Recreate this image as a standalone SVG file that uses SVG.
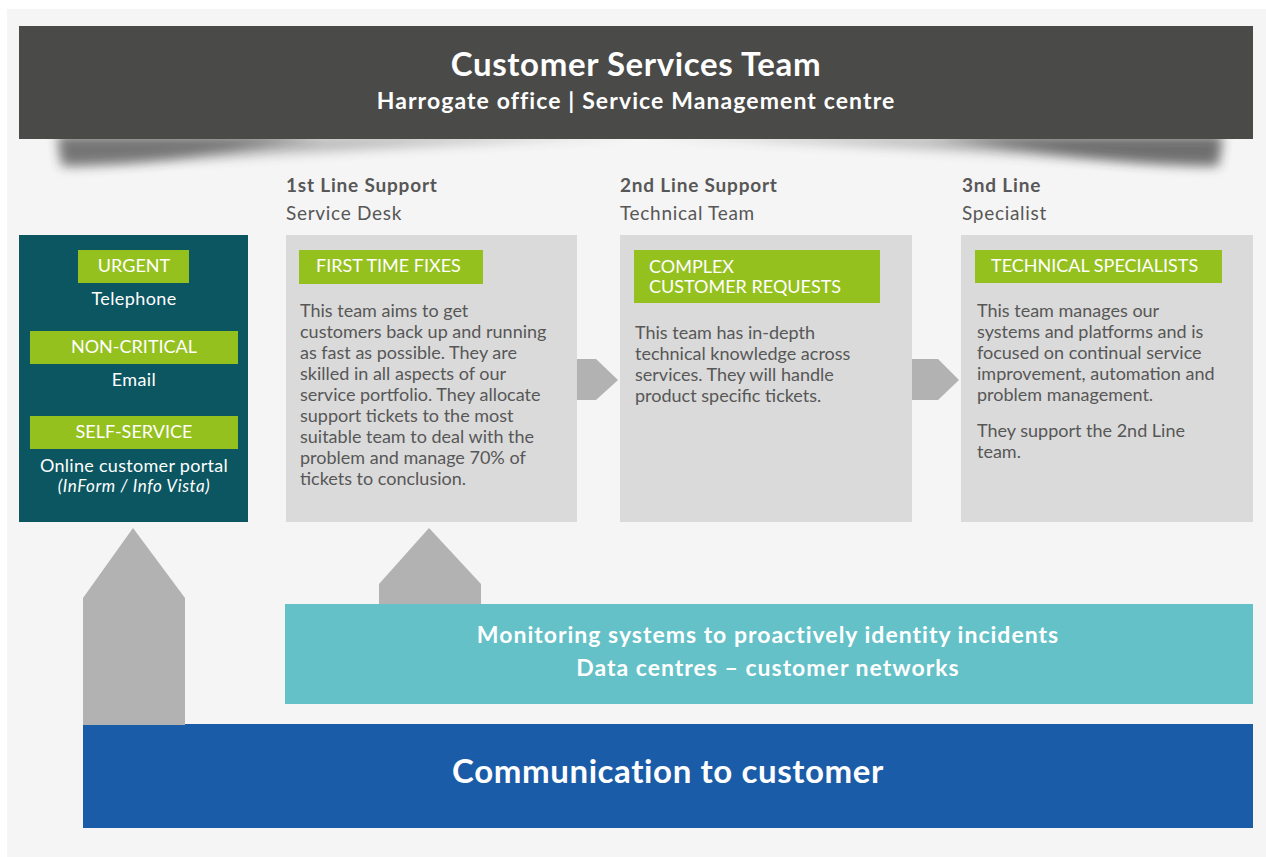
<svg xmlns="http://www.w3.org/2000/svg" width="1266" height="857" viewBox="0 0 1266 857">
<style>
.t{font-family:Lato,"Open Sans","Liberation Sans",sans-serif}
.w{fill:#fff}
.hd{font-size:19px;font-weight:700;fill:#575757;letter-spacing:0.8px}
.sh{font-size:19px;fill:#575757;letter-spacing:0.7px}
.lab{font-size:18px;fill:#fff}
.body{font-size:18px;fill:#575757}
.green{fill:#95c11f}
.gbox{fill:#dadada}
.arr{fill:#b2b2b2}
.shd{fill:#333;filter:url(#blur)}
</style>
<defs>
<filter id="blur" x="-20%" y="-100%" width="140%" height="300%"><feGaussianBlur stdDeviation="6"/></filter>
</defs>
<rect x="0" y="0" width="1266" height="857" fill="#fff"/>
<rect x="7" y="9" width="1259" height="848" fill="#f5f5f5"/>

<g id="header">
<path class="shd" opacity="0.3" d="M58,136 L640,136 C450,140 250,160 62,164 Z"/>
<path class="shd" opacity="0.5" d="M58,136 L320,136 C240,148 150,166 62,166 Z"/>
<path class="shd" opacity="0.3" d="M1222,136 L640,136 C850,140 1040,160 1218,164 Z"/>
<path class="shd" opacity="0.55" d="M1222,136 L930,136 C1020,148 1120,166 1218,166 Z"/>
<rect x="19" y="26" width="1234" height="113" fill="#4a4a48"/>
<text class="t w" x="636" y="76" text-anchor="middle" font-size="33" font-weight="700" letter-spacing="0.6">Customer Services Team</text>
<text class="t w" x="636" y="109" text-anchor="middle" font-size="23" font-weight="700" letter-spacing="1.1">Harrogate office | Service Management centre</text>
</g>

<g id="headings">
<text class="t hd" x="286" y="192">1st Line Support</text>
<text class="t sh" x="286" y="220">Service Desk</text>
<text class="t hd" x="620" y="192">2nd Line Support</text>
<text class="t sh" x="620" y="220">Technical Team</text>
<text class="t hd" x="962" y="192">3nd Line</text>
<text class="t sh" x="962" y="220">Specialist</text>
</g>

<g id="channels">
<rect x="19" y="235" width="229" height="287" fill="#0b5661"/>
<rect class="green" x="78" y="250" width="111" height="33"/>
<text class="t lab" x="134" y="272" text-anchor="middle">URGENT</text>
<text class="t w" x="134" y="305" text-anchor="middle" font-size="18" letter-spacing="0.4">Telephone</text>
<rect class="green" x="30" y="331" width="208" height="33"/>
<text class="t lab" x="134" y="353" text-anchor="middle">NON-CRITICAL</text>
<text class="t w" x="134" y="386" text-anchor="middle" font-size="18" letter-spacing="0.4">Email</text>
<rect class="green" x="30" y="416" width="208" height="33"/>
<text class="t lab" x="134" y="438" text-anchor="middle">SELF-SERVICE</text>
<text class="t w" x="134" y="472" text-anchor="middle" font-size="18" letter-spacing="0.3">Online customer portal</text>
<text class="t w" x="134" y="492" text-anchor="middle" font-size="17" font-style="italic" letter-spacing="0.6">(InForm / Info Vista)</text>
</g>

<g id="first-line">
<rect class="gbox" x="286" y="235" width="291" height="287"/>
<rect class="green" x="299" y="250" width="184" height="34"/>
<text class="t lab" x="316" y="272">FIRST TIME FIXES</text>
<text class="t body" x="300" y="317">This team aims to get</text>
<text class="t body" x="300" y="338">customers back up and running</text>
<text class="t body" x="300" y="359">as fast as possible. They are</text>
<text class="t body" x="300" y="380">skilled in all aspects of our</text>
<text class="t body" x="300" y="401">service portfolio. They allocate</text>
<text class="t body" x="300" y="422">support tickets to the most</text>
<text class="t body" x="300" y="443">suitable team to deal with the</text>
<text class="t body" x="300" y="464">problem and manage 70% of</text>
<text class="t body" x="300" y="485">tickets to conclusion.</text>
</g>

<g id="second-line">
<rect class="gbox" x="620" y="235" width="292" height="287"/>
<rect class="green" x="634" y="250" width="246" height="53"/>
<text class="t lab" x="649" y="273">COMPLEX</text>
<text class="t lab" x="649" y="293">CUSTOMER REQUESTS</text>
<text class="t body" x="635" y="339">This team has in-depth</text>
<text class="t body" x="635" y="360">technical knowledge across</text>
<text class="t body" x="635" y="381">services. They will handle</text>
<text class="t body" x="635" y="402">product specific tickets.</text>
</g>

<g id="third-line">
<rect class="gbox" x="961" y="235" width="292" height="287"/>
<rect class="green" x="975" y="250" width="247" height="33"/>
<text class="t lab" x="991" y="272">TECHNICAL SPECIALISTS</text>
<text class="t body" x="977" y="317">This team manages our</text>
<text class="t body" x="977" y="338">systems and platforms and is</text>
<text class="t body" x="977" y="359">focused on continual service</text>
<text class="t body" x="977" y="380">improvement, automation and</text>
<text class="t body" x="977" y="401">problem management.</text>
<text class="t body" x="977" y="437">They support the 2nd Line</text>
<text class="t body" x="977" y="458">team.</text>
</g>

<g id="monitoring">
<rect x="285" y="604" width="968" height="100" fill="#64c1c7"/>
<text class="t w" x="768" y="643" text-anchor="middle" font-size="23" font-weight="700" letter-spacing="1">Monitoring systems to proactively identity incidents</text>
<text class="t w" x="768" y="676" text-anchor="middle" font-size="23" font-weight="700" letter-spacing="1">Data centres – customer networks</text>
</g>

<g id="communication">
<rect x="83" y="724" width="1170" height="104" fill="#1a5ca8"/>
<text class="t w" x="668" y="783" text-anchor="middle" font-size="33" font-weight="700" letter-spacing="0.6">Communication to customer</text>
</g>

<g id="connectors">
<polygon class="arr" points="577,359 596,359 618,380 596,400 577,400"/>
<polygon class="arr" points="912,359 938,359 959,380 938,400 912,400"/>
<polygon class="arr" points="83,598 133,528 185,598 185,725 83,725"/>
<polygon class="arr" points="379,584 429,528 481,584 481,604 379,604"/>
</g>
</svg>
